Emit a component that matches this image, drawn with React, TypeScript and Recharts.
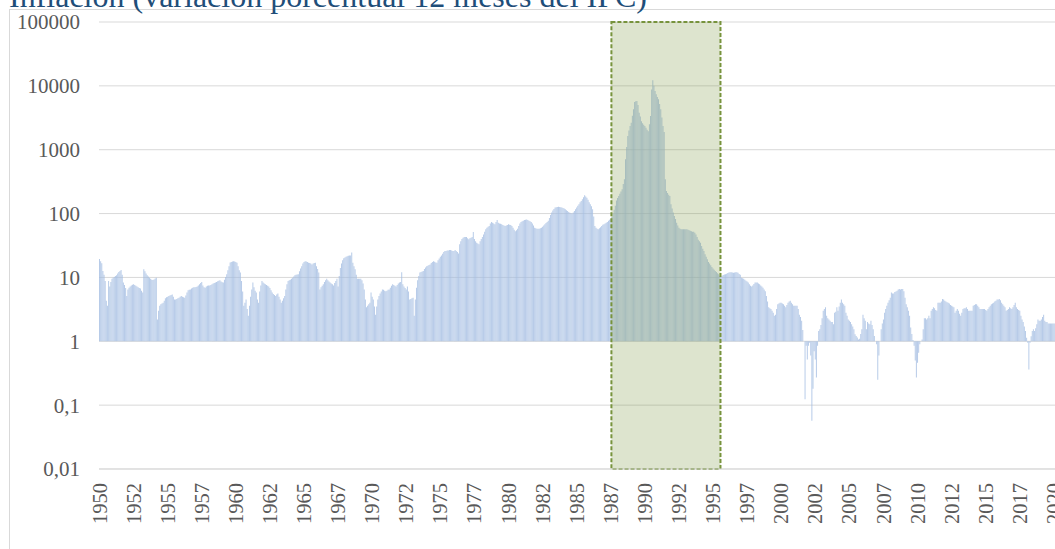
import { BarChart, Bar, XAxis, YAxis, CartesianGrid, ReferenceArea } from "recharts"

// Inflación 12 meses (%), mensual desde enero de 1950, una fila por año
const firstYear = 1950

const d1950s = [
  19.5, 18, 16.6, 12.6, 11, 8.8, 4.3, 3.6, 8.8, 7.2, 8.5, 9.5,
  9.9, 10.2, 10.5, 10.8, 11.5, 12.2, 12.6, 13.1, 11.0, 8.3, 7.6, 6.8,
  5.1, 6.5, 6.9, 7.2, 7.5, 7.7, 7.8, 7.6, 7.4, 7.2, 7.0, 6.8,
  6.7, 6.2, 5.8, 13.4, 12.5, 11.5, 10.8, 10.3, 9.9, 9.5, 9.2, 9.1,
  9.3, 9.6, 9.9, 2.2, 3.0, 3.6, 3.8, 3.9, 4.0, 4.3, 4.7, 4.9,
  5.0, 5.1, 5.2, 5.3, 5.4, 5.0, 4.5, 4.5, 4.6, 4.7, 4.8, 5.0,
  5.1, 5.0, 4.9, 4.8, 5.2, 5.8, 6.3, 6.4, 6.5, 6.7, 6.9, 7.0,
  7.0, 7.1, 7.2, 7.5, 7.8, 8.2, 8.5, 7.5, 7.0, 6.9, 7.2, 7.4,
  7.5, 7.5, 7.6, 7.8, 8.0, 8.2, 8.3, 8.5, 8.7, 8.9, 9.0, 8.6,
  8.4, 8.3, 9.2, 10.2, 11.2, 13.0, 15.0, 17.1, 17.5, 17.8, 18.0, 17.8,
]

const d1960s = [
  17.5, 17.0, 15.0, 13.0, 11.9, 8.8, 6.0, 3.6, 4.0, 4.5, 3.2, 2.5,
  3.6, 5.0, 6.5, 8.3, 7.0, 6.2, 5.8, 4.5, 4.0, 6.0, 7.5, 8.8,
  8.3, 8.0, 7.8, 7.6, 7.4, 7.2, 6.8, 6.3, 5.8, 5.5, 5.3, 5.1,
  5.4, 5.6, 5.0, 4.5, 4.0, 4.3, 4.7, 5.1, 6.5, 7.8, 8.8, 9.0,
  9.2, 9.5, 9.9, 10.3, 10.8, 11.0, 11.1, 11.2, 12.5, 13.8, 15.0, 16.5,
  17.5, 18.0, 17.8, 17.5, 17.0, 16.8, 16.5, 16.0, 16.5, 16.8, 17.0, 15.0,
  13.5, 11.9, 6.5, 7.0, 7.4, 7.8, 8.5, 9.0, 9.5, 9.0, 8.6, 8.3,
  8.0, 7.8, 7.5, 8.2, 8.8, 9.5, 7.2, 10.5, 14.0, 16.5, 18.5, 20.0,
  20.5, 21.0, 21.5, 21.8, 22.0, 22.0, 24.5, 17.0, 15.0, 13.4, 11.0, 9.5,
  9.5, 9.5, 9.5, 9.0, 8.0, 6.5, 4.5, 3.4, 3.6, 3.8, 4.0, 5.8,
]

const d1970s = [
  5.0, 4.5, 3.5, 2.6, 3.5, 4.5, 5.1, 5.6, 6.0, 6.5, 6.4, 6.2,
  6.1, 6.2, 6.4, 6.5, 6.9, 7.4, 7.8, 7.6, 7.4, 7.2, 7.6, 8.0,
  8.3, 8.5, 12.0, 7.8, 7.2, 6.8, 6.5, 7.2, 6.0, 4.5, 4.6, 4.7,
  4.8, 2.5, 4.5, 6.9, 9.0, 10.5, 11.9, 12.2, 12.4, 12.6, 13.5, 14.3,
  15.0, 15.3, 15.7, 16.0, 16.8, 17.5, 18.0, 17.6, 17.2, 17.0, 18.5, 19.7,
  21, 22, 23.5, 25, 26, 26, 26.5, 26.5, 27, 27, 26.5, 26,
  26, 27, 26, 25, 23.8, 33, 37, 40, 42, 43, 43, 43,
  41, 39.6, 41, 42, 43, 51.5, 40, 37, 35, 34, 33, 37,
  40, 43, 47, 52, 57, 60, 62, 64, 70, 74, 72, 70,
  68, 74, 79, 72, 70, 69, 68, 66, 65, 64, 65, 66,
]

const d1980s = [
  68, 67, 66, 64, 60, 56, 53, 55, 58, 64, 70, 74,
  76, 77, 79, 80, 81, 79, 77, 76, 74, 70, 65, 60,
  59, 58, 58, 58, 59, 60, 62, 65, 68, 71, 74, 77,
  85, 95, 104, 112, 118, 124, 126, 127, 128, 127, 126, 124,
  122, 120, 117, 113, 110, 106, 103, 101, 100, 104, 110, 117,
  125, 132, 140, 150, 158, 167, 180, 193, 185, 177, 165, 150,
  140, 130, 117, 90, 64, 60, 58, 57, 59, 61, 64, 67,
  68, 70, 72, 74, 77, 80, 83, 88, 100, 115, 132, 160,
  175, 188, 205, 222, 240, 290, 344, 710, 1100, 1640, 2000, 2350,
  2650, 3400, 4300, 5580, 5750, 5780, 5000, 3800, 3300, 2800, 2600, 2450,
]

const d1990s = [
  2350, 2200, 2050, 1950, 2500, 3380, 8800, 12200, 10000, 8300, 7400, 6700,
  6150, 5200, 4300, 3200, 2350, 1900, 344, 226, 210, 198, 188, 140,
  120, 104, 92, 82, 72, 65, 60, 58, 57, 57, 57, 57,
  57, 57, 56, 55, 54, 53, 52, 52, 50, 47, 43, 39,
  37, 35, 31, 28, 26, 23, 21, 19.2, 17.5, 16.5, 15.5, 14.5,
  13.8, 13.2, 12.6, 12.2, 11.6, 11.2, 10.5, 10.4, 10.6, 10.9, 11.1, 11.2,
  11.4, 11.7, 11.9, 12.0, 12.0, 11.9, 11.8, 11.9, 12.0, 12.0, 11.8, 11.3,
  11.0, 9.9, 9.7, 9.5, 9.2, 8.9, 8.6, 8.3, 7.8, 7.4, 7.2, 7.5,
  7.9, 8.3, 8.3, 8.3, 8.0, 7.8, 7.5, 7.2, 6.9, 6.5, 6.1, 5.1,
  4.2, 3.4, 3.3, 3.2, 3.0, 2.8, 2.5, 2.6, 3.2, 3.8, 3.9, 4.0,
]

const d2000s = [
  4.0, 3.9, 3.8, 3.6, 3.4, 3.7, 4.0, 4.2, 4.3, 4.0, 3.8, 3.6,
  3.6, 3.6, 3.6, 3.2, 2.6, 2.4, 2.1, 1.5, 1.0, 0.124, 0.85, 0.52,
  0.85, 0.95, 0.6, 0.057, 0.18, 0.7, 0.52, 0.27, 0.85, 1.45, 1.54, 1.8,
  2.3, 3.0, 3.2, 3.4, 2.5, 2.3, 2.2, 2.1, 2.0, 2.0, 1.85, 2.8,
  2.9, 3.4, 3.0, 3.5, 4.0, 4.5, 4.0, 3.8, 3.6, 2.8, 2.5, 2.2,
  2.1, 2.0, 1.85, 1.7, 1.54, 1.29, 1.21, 1.15, 1.07, 1.1, 1.3, 1.54,
  2.6, 2.3, 2.1, 1.54, 2.0, 1.9, 1.85, 2.1, 1.8, 1.54, 1.21, 1.0,
  0.9, 0.25, 0.6, 1.0, 1.54, 1.9, 2.2, 2.8, 3.2, 3.6, 4.0, 4.4,
  4.8, 5.8, 5.6, 5.6, 5.9, 6.0, 6.2, 6.5, 6.6, 6.5, 6.6, 6.6,
  6.1, 4.8, 3.8, 3.4, 3.0, 2.5, 1.64, 1.3, 1.05, 0.85, 0.5, 0.27,
]

const d2010s = [
  0.46, 0.66, 0.9, 1.0, 1.07, 1.54, 2.3, 2.3, 2.2, 2.3, 2.5, 2.3,
  3.0, 3.2, 3.4, 3.3, 3.1, 3.0, 4.0, 4.0, 4.0, 4.2, 4.6, 4.5,
  4.3, 4.2, 4.1, 4.0, 3.9, 3.7, 3.6, 3.5, 3.4, 2.8, 3.0, 3.2,
  3.0, 2.7, 2.5, 2.8, 3.2, 3.3, 3.3, 3.4, 3.2, 3.0, 3.0, 3.0,
  3.0, 3.6, 3.7, 3.8, 3.8, 3.6, 3.4, 3.2, 3.2, 3.2, 3.2, 3.2,
  3.1, 3.0, 3.2, 3.4, 3.6, 3.8, 3.9, 4.0, 4.2, 4.3, 4.5, 4.5,
  4.6, 4.4, 4.0, 3.8, 3.6, 3.4, 3.0, 3.1, 3.2, 3.4, 3.3, 3.2,
  3.4, 3.7, 4.0, 3.4, 3.2, 3.1, 3.0, 2.5, 2.2, 2.0, 1.7, 1.45,
  1.14, 0.95, 0.36, 0.95, 1.2, 1.45, 1.54, 1.45, 1.6, 1.85, 2.2, 2.1,
  2.1, 2.2, 2.4, 2.6, 2.1, 2.0, 2.0, 1.9, 1.9, 1.9, 1.9, 1.9,
]

const d2020 = [1.9, 1.9, 1.8, 1.7, 1.8, 1.6, 1.9, 1.7, 1.8, 1.7, 2.1, 2.0]

const yTicks = [0.01, 0.1, 1, 10, 100, 1000, 10000, 100000]

// periodo sombreado (hiperinflación)
const highlightFrom = "1987-08"
const highlightTo = "1995-07"

const title = "Inflación (variación porcentual 12 meses del IPC)"

const values = [...d1950s, ...d1960s, ...d1970s, ...d1980s, ...d1990s, ...d2000s, ...d2010s, ...d2020]

const data = values.map((v, i) => {
  const year = firstYear + Math.floor(i / 12)
  const month = String((i % 12) + 1).padStart(2, "0")
  return { mes: `${year}-${month}`, ipc: v }
})

const serif = "'Liberation Serif', 'Times New Roman', serif"
const gray = "#595959"

function YearTick(props: any) {
  const { x, y, payload } = props
  return (
    <text
      x={x}
      y={y}
      transform={`rotate(-90 ${x} ${y})`}
      textAnchor="end"
      dominantBaseline="central"
      fontSize={20.5}
      fontFamily={serif}
      fill={gray}
    >
      {String(payload.value).slice(0, 4)}
    </text>
  )
}

export default function App() {
  return (
    <div style={{ position: "absolute", left: 0, top: 0, width: 1055, height: 549, overflow: "hidden", background: "#fff" }}>
      <div
        style={{
          position: "absolute",
          left: 9,
          top: 9,
          width: 1400,
          height: 800,
          border: "1px solid #d9d9d9",
        }}
      />
      <div style={{ position: "absolute", left: 0, top: 0 }}>
        <BarChart
          width={1067}
          height={560}
          data={data}
          margin={{ top: 22, right: 0, bottom: 0, left: 0 }}
          barCategoryGap={0}
          barGap={0}
        >
          <CartesianGrid vertical={false} stroke="#d9d9d9" />
          <XAxis
            dataKey="mes"
            interval={29}
            tick={<YearTick />}
            tickLine={false}
            tickSize={0}
            tickMargin={14}
            axisLine={{ stroke: "#d9d9d9" }}
            height={91}
          />
          <YAxis
            type="number"
            scale="log"
            domain={[0.01, 100000]}
            allowDataOverflow
            ticks={yTicks}
            interval={0}
            tickFormatter={(v: number) => String(v).replace(".", ",")}
            axisLine={false}
            tickLine={false}
            tickSize={0}
            tickMargin={19}
            width={99}
            tick={{ fill: gray, fontSize: 21, fontFamily: serif }}
          />
          <Bar
            dataKey={(d: any) => (d.ipc >= 1 ? [1, d.ipc] : [d.ipc, 1])}
            fill="#a3bce1"
            fillOpacity={0.78}
            isAnimationActive={false}
          />
          <ReferenceArea
            x1={highlightFrom}
            x2={highlightTo}
            y1={0.01}
            y2={100000}
            fill="#76923c"
            fillOpacity={0.25}
            stroke="#77933c"
            strokeWidth={2}
            strokeDasharray="4 2"
            ifOverflow="visible"
            zIndex={350}
          />
        </BarChart>
      </div>
      <svg width={1055} height={40} style={{ position: "absolute", left: 0, top: 0, pointerEvents: "none" }}>
        <text x={9} y={7} fontSize={32} fontFamily={serif} fill="#1f4e79">
          {title}
        </text>
      </svg>
    </div>
  )
}
